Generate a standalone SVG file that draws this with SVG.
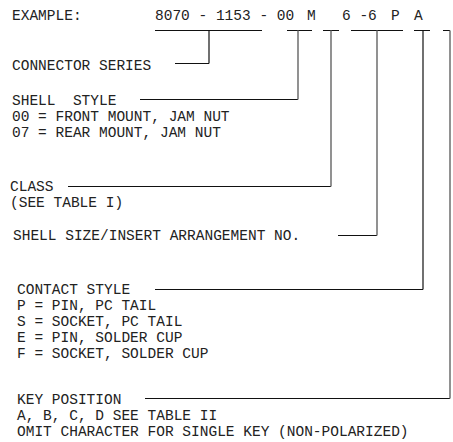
<svg xmlns="http://www.w3.org/2000/svg" width="453" height="442" viewBox="0 0 453 442">
<style>
text{font-family:"Liberation Mono","Courier New",monospace;font-size:14.5px;fill:#222}
.h{stroke:#111;stroke-width:1;fill:none}
.v{stroke:#777;stroke-width:1.6;fill:none}
.vb{stroke:#111;stroke-width:1.2;fill:none}
</style>
<rect width="453" height="442" fill="#fff"/>
<g id="example">
<text x="12" y="20">EXAMPLE:</text>
<text x="155" y="20">8070 - 1153 - 00</text>
<text x="307" y="20">M</text>
<text x="342" y="20">6 -6</text>
<text x="391" y="20">P</text>
<text x="414" y="20">A</text>
</g>
<g id="connector-series"><text x="12" y="70">CONNECTOR SERIES</text></g>
<g id="shell-style">
<text x="12" y="105" xml:space="preserve">SHELL  STYLE</text>
<text x="12" y="121">00 = FRONT MOUNT, JAM NUT</text>
<text x="12" y="137">07 = REAR MOUNT, JAM NUT</text>
</g>
<g id="class">
<text x="10" y="191">CLASS</text>
<text x="10" y="207">(SEE TABLE I)</text>
</g>
<g id="shell-size"><text x="13" y="240">SHELL SIZE/INSERT ARRANGEMENT NO.</text></g>
<g id="contact-style">
<text x="17" y="294">CONTACT STYLE</text>
<text x="17" y="310">P = PIN, PC TAIL</text>
<text x="17" y="326">S = SOCKET, PC TAIL</text>
<text x="17" y="342">E = PIN, SOLDER CUP</text>
<text x="17" y="358">F = SOCKET, SOLDER CUP</text>
</g>
<g id="key-position">
<text x="17" y="404">KEY POSITION</text>
<text x="17" y="420">A, B, C, D SEE TABLE II</text>
<text x="17" y="436">OMIT CHARACTER FOR SINGLE KEY (NON-POLARIZED)</text>
</g>
<g id="connectors">
<path class="h" d="M155 30.5H262M287 30.5H312M323 30.5H339M351 30.5H403M414 30.5H430M443 30.5H450"/>
<path class="h" d="M175 63.5H209M140 99.5H298M68 186.5H331M338 235.5H377M155 289.5H423M145 398.5H450"/>
<path class="vb" d="M209 30.5V63.5"/>
<path class="v" d="M298 30.5V99.5M331 30.5V186.5M377 30.5V235.5M450 30.5V398.5"/>
<path class="vb" d="M423 30.5V289.5"/>
</g>
</svg>
